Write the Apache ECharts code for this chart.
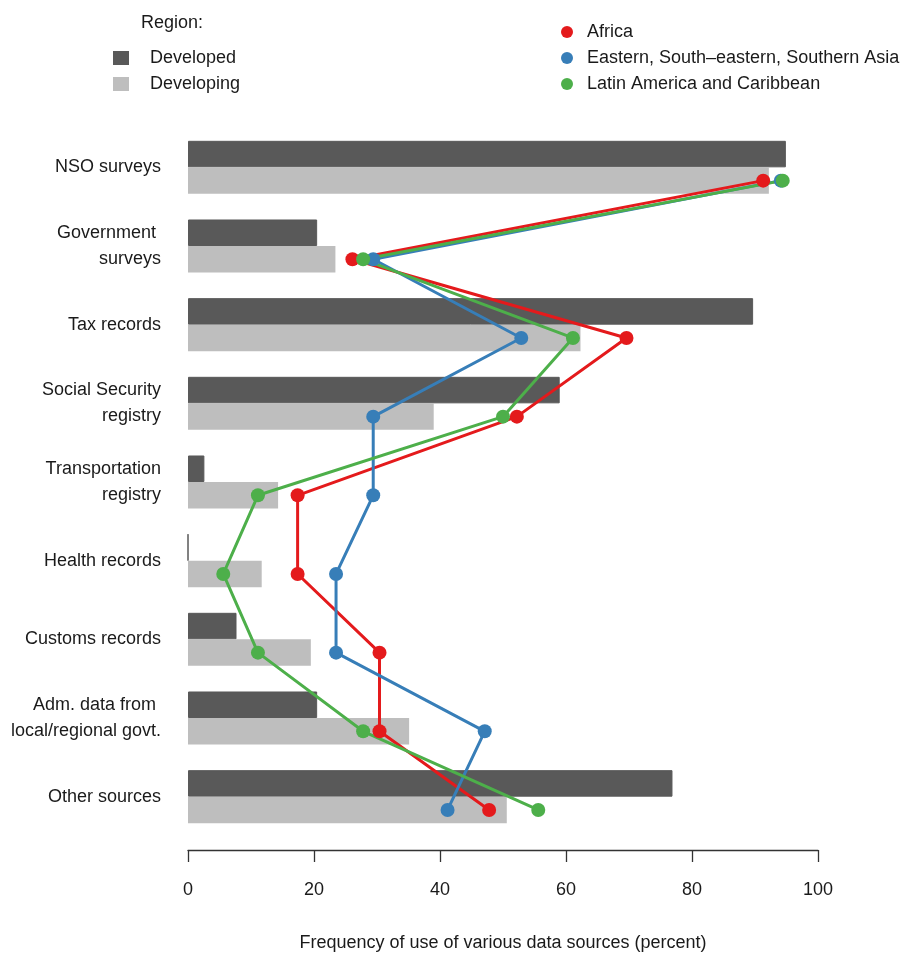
<!DOCTYPE html>
<html>
<head>
<meta charset="utf-8">
<script src="https://cdn.jsdelivr.net/npm/echarts@6/dist/echarts.min.js"></script>
<style>
  html, body { margin: 0; padding: 0; background: #ffffff; }
  #chart { width: 904px; height: 953px; }
</style>
</head>
<body>
<div id="chart"></div>
<script>
// Data sources, top to bottom
const categories = [
  'NSO surveys',
  'Government \nsurveys',
  'Tax records',
  'Social Security\nregistry',
  'Transportation\nregistry',
  'Health records',
  'Customs records',
  'Adm. data from \nlocal/regional govt.',
  'Other sources'
];

// Share of countries using each source (percent), by development status
const developed  = [94.9, 20.5, 89.7, 59.0, 2.6, 0, 7.7, 20.5, 76.9];
const developing = [92.2, 23.4, 62.3, 39.0, 14.3, 11.7, 19.5, 35.1, 50.6];

// Share of countries using each source (percent), by region
const africa = [91.3, 26.1, 69.6, 52.2, 17.4, 17.4, 30.4, 30.4, 47.8];
const asia   = [94.1, 29.4, 52.9, 29.4, 29.4, 23.5, 23.5, 47.1, 41.2];
const latam  = [94.4, 27.8, 61.1, 50.0, 11.1, 5.6, 11.1, 27.8, 55.6];

const xTicks = [0, 20, 40, 60, 80, 100];

const font = "'Liberation Sans', Arial, sans-serif";
const INK = '#1a1a1a';

const RED = '#E41A1C', BLUE = '#377EB8', GREEN = '#4DAF4A';
const DARK = '#595959', LIGHT = '#BEBEBE';

const chart = echarts.init(document.getElementById('chart'), null, { renderer: 'canvas' });

const gridTop = 128, gridH = 708;
const shift = 13.3; // regional points sit on the developing bar

function lineSeries(name, data, color) {
  return {
    name: name,
    type: 'line',
    xAxisIndex: 1,
    yAxisIndex: 1,
    data: data,
    symbol: 'circle',
    symbolSize: 14,
    lineStyle: { color: color, width: 3 },
    itemStyle: { color: color },
    emphasis: { disabled: true },
    z: 5
  };
}

chart.setOption({
  animation: false,
  backgroundColor: '#ffffff',
  graphic: [{
    type: 'text',
    left: 141,
    top: 14,
    style: { text: 'Region:', font: '18px ' + font, fill: INK }
  }],
  legend: [{
    data: ['Developed', 'Developing'],
    orient: 'vertical',
    left: 108,
    top: 44,
    itemWidth: 16,
    itemHeight: 14,
    itemGap: 8,
    icon: 'rect',
    selectedMode: false,
    itemStyle: { borderWidth: 0 },
    textStyle: { fontFamily: font, fontSize: 18, color: INK, padding: [0, 0, 0, 16] }
  }, {
    data: ['Africa', 'Eastern, South\u2013eastern, Southern Asia', 'Latin America and Caribbean'],
    orient: 'vertical',
    left: 556,
    top: 18,
    itemWidth: 12,
    itemHeight: 12,
    itemGap: 8,
    icon: 'circle',
    selectedMode: false,
    itemStyle: { borderWidth: 0 },
    textStyle: { fontFamily: font, fontSize: 18, color: INK, padding: [0, 0, 0, 9] }
  }],
  grid: [
    { left: 188, right: 86, top: gridTop, height: gridH, outerBoundsMode: 'none', containLabel: false },
    { left: 188, right: 86, top: gridTop + shift, height: gridH, outerBoundsMode: 'none', containLabel: false }
  ],
  xAxis: [{
    gridIndex: 0,
    type: 'value',
    min: 0,
    max: 100,
    interval: 20,
    offset: 14,
    axisLine: { show: true, lineStyle: { color: '#333333', width: 1.3 } },
    axisTick: { show: true, length: 12, inside: false, lineStyle: { color: '#333333', width: 1.3 } },
    axisLabel: {
      margin: 31,
      fontFamily: font, fontSize: 18, color: INK,
      formatter: v => xTicks.includes(v) ? String(v) : ''
    },
    splitLine: { show: false },
    name: 'Frequency of use of various data sources (percent)',
    nameLocation: 'middle',
    nameGap: 84,
    nameTextStyle: { fontFamily: font, fontSize: 18, color: INK }
  }, {
    gridIndex: 1,
    type: 'value',
    min: 0,
    max: 100,
    show: false
  }],
  yAxis: [{
    gridIndex: 0,
    type: 'category',
    data: categories,
    inverse: true,
    axisLine: { show: false },
    axisTick: { show: false },
    axisLabel: {
      margin: 27,
      fontFamily: font, fontSize: 18, lineHeight: 26, color: INK, align: 'right',
      padding: [8, 0, 0, 0]
    }
  }, {
    gridIndex: 1,
    type: 'category',
    data: categories,
    inverse: true,
    show: false
  }],
  series: [{
    name: 'Developed',
    type: 'bar',
    data: developed,
    barGap: '0%',
    barCategoryGap: '32.6%',
    itemStyle: { color: DARK, borderColor: DARK, borderWidth: 1 },
    emphasis: { disabled: true },
    z: 2
  }, {
    name: 'Developing',
    type: 'bar',
    data: developing,
    barGap: '0%',
    barCategoryGap: '32.6%',
    itemStyle: { color: LIGHT },
    emphasis: { disabled: true },
    z: 2
  },
    lineSeries('Africa', africa, RED),
    lineSeries('Eastern, South\u2013eastern, Southern Asia', asia, BLUE),
    lineSeries('Latin America and Caribbean', latam, GREEN)
  ]
});
</script>
</body>
</html>
